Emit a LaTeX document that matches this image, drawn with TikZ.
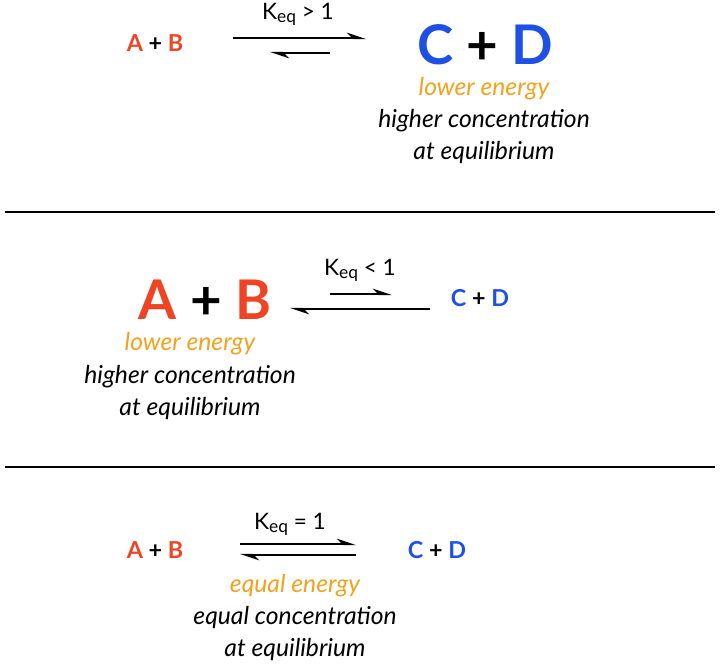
\documentclass[tikz,border=0pt]{standalone}
\usepackage{fontspec}
\setmainfont{Lato}
\usetikzlibrary{arrows.meta}
\definecolor{chemred}{HTML}{EE4423}
\definecolor{chemblue}{HTML}{1E50E6}
\definecolor{chemorange}{HTML}{F2A21E}
\newcommand{\keqsub}{K{\fontsize{13}{15}\selectfont\raisebox{-0.35ex}{eq}}}
\begin{document}
\begin{tikzpicture}[
    x=0.75pt, y=-0.75pt,
    harpR/.style={line width=1.6pt, -{Stealth[harpoon, length=12pt, width=8pt]}},
    harpL/.style={line width=1.6pt, -{Stealth[harpoon, length=12pt, width=8pt]}},
    small/.style={font=\bfseries\fontsize{17.5}{20}\selectfont, inner sep=0pt},
    big/.style={font=\bfseries\fontsize{41}{48}\selectfont, inner sep=0pt},
    keq/.style={font=\fontsize{17}{19}\selectfont, inner sep=0pt},
    note/.style={font=\itshape\fontsize{18.5}{21}\selectfont, inner sep=0pt},
    divider/.style={line width=1.6pt}
]
\useasboundingbox (0,0) rectangle (720,671);

% K > 1
\node[small] (ab1) at (155,43) {\textcolor{chemred}{A} + \textcolor{chemred}{B}};
\node[big] (cd1) at (485,45) {\textcolor{chemblue}{C} + \textcolor{chemblue}{D}};
\coordinate (f1s) at (233,38); \coordinate (f1e) at (366,38);
\coordinate (r1s) at (330,53); \coordinate (r1e) at (270,53);
\draw[harpR] (f1s) -- (f1e);
\draw[harpL] (r1s) -- (r1e);
\node[keq] (k1) at (298,14) {\keqsub{} > 1};
\node[note, text=chemorange] (e1) at (484,89) {lower energy};
\node[note] (h1) at (484,121) {higher concentration};
\node[note] (q1) at (484,153) {at equilibrium};

\coordinate (d1a) at (5,212); \coordinate (d1b) at (715,212);
\draw[divider] (d1a) -- (d1b);

% K < 1
\node[big] (ab2) at (205,300) {\textcolor{chemred}{A} + \textcolor{chemred}{B}};
\node[small] (cd2) at (480,298) {\textcolor{chemblue}{C} + \textcolor{chemblue}{D}};
\coordinate (f2s) at (330,294); \coordinate (f2e) at (392,294);
\coordinate (r2s) at (430,309); \coordinate (r2e) at (290,309);
\draw[harpR] (f2s) -- (f2e);
\draw[harpL] (r2s) -- (r2e);
\node[keq] (k2) at (360,270) {\keqsub{} < 1};
\node[note, text=chemorange] (e2) at (190,344) {lower energy};
\node[note] (h2) at (190,377) {higher concentration};
\node[note] (q2) at (190,409) {at equilibrium};

\coordinate (d2a) at (5,467); \coordinate (d2b) at (715,467);
\draw[divider] (d2a) -- (d2b);

% K = 1
\node[small] (ab3) at (155,550) {\textcolor{chemred}{A} + \textcolor{chemred}{B}};
\node[small] (cd3) at (437,550) {\textcolor{chemblue}{C} + \textcolor{chemblue}{D}};
\coordinate (f3s) at (240,544); \coordinate (f3e) at (356,544);
\coordinate (r3s) at (356,555); \coordinate (r3e) at (240,555);
\draw[harpR] (f3s) -- (f3e);
\draw[harpL] (r3s) -- (r3e);
\node[keq] (k3) at (290,524) {\keqsub{} = 1};
\node[note, text=chemorange] (e3) at (295,586) {equal energy};
\node[note] (h3) at (295,618) {equal concentration};
\node[note] (q3) at (295,650) {at equilibrium};
\end{tikzpicture}
\end{document}
